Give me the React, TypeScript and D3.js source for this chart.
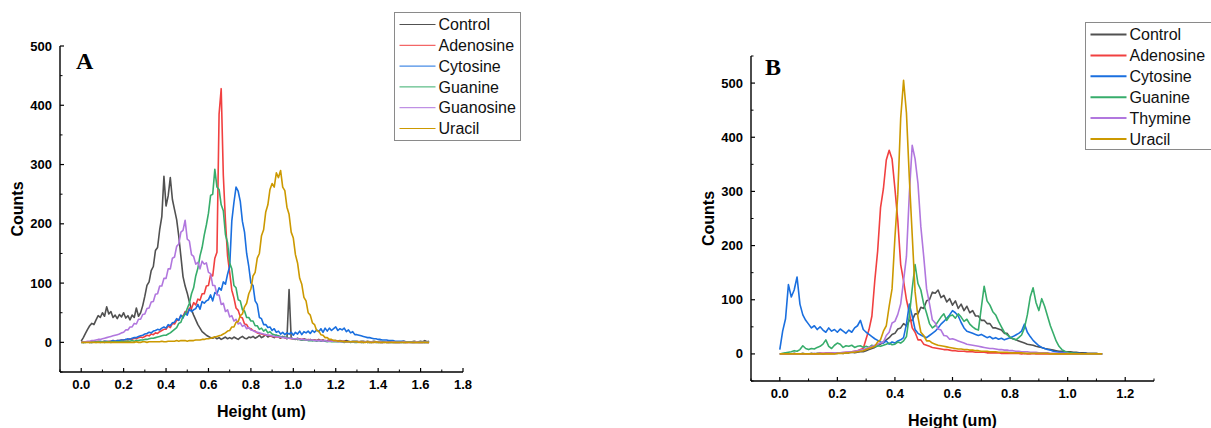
import React from 'react';
import * as d3 from 'd3';

// ---------- Panel A data (bins 0.00 .. 1.64 um, step 0.01) ----------
const heightsA = d3.range(165).map((i) => +(i * 0.01).toFixed(2));
const namesA = ['Control', 'Adenosine', 'Cytosine', 'Guanine', 'Guanosine', 'Uracil'];

const controlA = [2,8,15,22,28,32,30,38,45,42,
 50,44,60,48,52,42,46,40,47,43,
 50,41,45,38,46,42,58,44,50,62,
 78,96,102,121,128,155,160,190,212,280,
 230,247,278,241,224,207,179,145,111,95,
 83,68,55,46,38,30,24,18,15,12,
 10,8,7,9,6,8,5,7,9,6,
 8,6,9,7,5,8,10,7,6,9,
 8,10,7,9,12,8,10,13,9,11,
 10,8,12,9,7,10,8,6,89,7,
 6,5,7,5,4,6,5,4,5,3,
 4,3,5,3,4,2,3,4,2,3,
 3,2,3,2,2,3,2,1,2,2,
 2,1,2,2,1,2,1,1,2,1,
 1,2,1,1,1,2,1,1,1,1,
 1,1,2,1,1,1,1,2,1,1,
 2,1,3,1,2];
const adenosineA = [1,0,1,1,0,1,1,1,2,1,
 1,2,1,2,2,3,2,3,3,4,
 4,5,4,6,5,7,6,8,9,8,
 10,12,11,14,13,16,15,18,20,22,
 22,28,25,32,31,37,38,45,44,52,
 49,58,57,67,63,73,71,82,82,95,
 96,114,112,142,152,385,428,282,205,146,
 118,88,75,58,54,43,41,31,30,24,
 23,20,19,16,15,14,13,12,12,11,
 10,10,9,9,8,9,8,7,7,6,
 6,6,5,6,5,5,4,5,4,4,
 4,3,4,3,3,3,2,3,2,2,
 2,2,2,1,2,1,1,1,1,1,
 1,1,0,1,1,0,1,0,1,0,
 1,0,0,1,0,0,1,0,0,0,
 0,1,0,0,0,1,0,0,0,0,
 0,0,1,0,0];
const cytosineA = [1,0,1,1,1,0,1,1,1,2,
 1,2,2,1,2,3,2,3,3,4,
 4,5,6,5,7,8,8,10,11,12,
 14,15,17,16,19,20,22,21,24,26,
 24,30,28,33,34,40,37,46,41,50,
 46,56,52,55,57,64,56,69,66,70,
 72,80,70,84,82,92,88,102,98,115,
 128,205,236,262,255,238,204,186,150,128,
 100,96,70,64,42,40,30,30,25,26,
 20,23,17,19,14,17,13,16,14,17,
 12,17,14,19,13,18,16,19,15,20,
 17,21,18,23,17,24,19,24,20,23,
 26,20,23,21,24,18,21,16,18,13,
 13,12,11,10,9,8,8,7,6,6,
 5,5,4,4,4,3,3,3,2,2,
 2,2,2,1,1,1,1,1,1,1,
 1,1,0,1,1];
const guanineA = [0,0,0,1,0,0,1,0,1,0,
 1,0,1,1,0,1,1,1,1,2,
 1,2,2,2,3,2,3,3,4,4,
 5,5,6,7,7,8,9,10,11,12,
 12,14,16,19,22,25,32,34,44,47,
 57,66,82,92,112,125,146,160,181,198,
 218,248,250,292,262,258,232,222,182,168,
 134,124,96,92,72,70,55,53,42,42,
 36,36,28,28,22,24,19,22,16,18,
 14,13,12,11,10,9,9,8,7,7,
 6,6,5,5,4,4,4,3,3,3,
 3,2,3,2,2,2,1,2,1,1,
 1,1,1,1,0,1,1,0,1,0,
 0,1,0,0,1,0,0,0,1,0,
 0,0,0,1,0,0,0,0,0,0,
 0,0,0,0,1,0,0,0,0,0,
 0,0,0,0,0];
const guanosineA = [0,1,1,2,2,3,3,4,5,5,
 6,7,8,9,10,11,12,13,14,16,
 17,21,21,26,26,32,31,39,39,47,
 48,57,58,68,69,81,82,95,95,108,
 108,124,124,142,144,162,166,186,189,206,
 174,171,148,145,132,135,124,137,132,134,
 118,116,96,96,80,80,64,66,52,55,
 43,45,36,39,31,33,27,29,23,25,
 21,20,18,17,16,15,14,13,12,12,
 11,10,10,9,9,8,8,7,7,7,
 6,6,6,5,5,5,4,4,4,4,
 3,3,3,3,2,3,2,2,2,2,
 2,1,2,1,1,1,1,1,1,1,
 1,1,1,0,1,1,0,1,0,1,
 0,1,0,0,1,0,0,1,0,0,
 0,0,1,0,0,0,0,0,1,0,
 0,0,0,0,0];
const uracilA = [0,0,0,0,0,0,0,0,0,0,
 0,0,0,0,0,0,0,0,0,0,
 0,0,0,0,0,0,1,0,0,1,
 1,0,1,1,1,1,1,1,2,1,
 1,2,2,2,2,3,2,3,3,3,
 2,3,3,3,4,4,4,5,5,6,
 6,7,8,9,10,11,12,14,16,19,
 20,26,26,34,35,45,48,60,66,82,
 90,112,118,142,150,180,190,220,232,258,
 268,262,286,278,290,262,256,228,216,186,
 176,148,134,108,98,76,70,50,46,33,
 30,20,19,13,12,8,8,5,5,3,
 3,2,2,2,1,1,1,1,1,1,
 1,0,1,0,0,1,0,0,0,1,
 0,0,0,0,0,0,0,0,0,0,
 0,0,0,0,0,0,0,0,0,0,
 0,0,0,0,0];

// ---------- Panel B data (bins 0.00 .. 1.12 um, step 0.01) ----------
const heightsB = d3.range(113).map((i) => +(i * 0.01).toFixed(2));
const namesB = ['Control', 'Adenosine', 'Cytosine', 'Guanine', 'Thymine', 'Uracil'];

const controlB = [0,0,1,0,0,1,0,0,1,0,
 0,1,0,1,1,0,1,1,1,1,
 1,2,1,2,2,3,2,3,4,4,
 6,8,10,12,15,18,22,26,30,36,
 38,46,48,56,52,62,62,74,74,86,
 84,98,100,114,112,118,104,108,96,102,
 90,98,84,92,80,88,76,80,70,70,
 62,62,56,56,48,48,46,44,38,38,
 30,28,26,24,22,20,18,17,16,14,
 13,12,10,9,8,7,6,5,5,4,
 4,4,3,3,2,2,2,1,1,1,
 1,0,0];
const adenosineB = [0,0,0,0,0,0,0,0,0,0,
 0,0,0,0,1,1,1,1,1,1,
 2,2,2,3,3,4,5,6,8,10,
 28,45,70,135,190,270,305,358,376,360,
 305,246,165,135,100,76,48,40,26,26,
 18,16,14,12,11,10,9,8,8,7,
 6,6,5,5,5,4,4,4,3,3,
 3,3,2,2,2,2,2,1,1,1,
 1,1,1,1,0,1,0,0,1,0,
 0,0,0,0,0,0,0,0,0,0,
 0,0,0,0,0,0,0,0,0,0,
 0,0,0];
const cytosineB = [8,42,65,128,105,118,142,92,72,62,
 55,48,52,45,50,44,40,48,42,45,
 40,46,42,38,44,40,48,52,62,45,
 40,36,32,28,25,22,20,24,18,22,
 20,24,26,30,55,92,70,45,38,35,
 32,30,34,38,42,48,55,60,66,72,
 80,76,70,58,48,42,40,38,36,34,
 36,33,30,32,28,30,27,29,26,28,
 30,32,35,38,42,55,40,32,25,20,
 15,12,10,8,7,5,4,3,3,2,
 2,1,1,1,1,0,1,0,0,0,
 0,0,0];
const guanineB = [0,1,2,3,4,6,5,8,15,10,
 8,10,9,12,14,18,26,14,10,16,
 20,18,12,15,14,16,12,14,15,12,
 14,12,16,13,15,14,16,18,20,17,
 18,22,20,24,32,70,120,165,130,118,
 92,75,56,48,52,60,68,74,62,70,
 72,66,74,68,60,64,55,50,46,44,
 85,125,98,90,78,72,60,50,40,35,
 31,28,26,30,35,48,72,105,122,95,
 80,102,88,70,52,38,24,14,8,5,
 3,2,1,1,0,0,0,0,0,0,
 0,0,0];
const thymineB = [0,0,0,0,0,0,0,0,0,0,
 0,0,1,0,1,1,1,1,1,2,
 2,2,3,3,4,4,5,6,7,8,
 10,12,14,16,18,20,22,34,40,57,
 60,73,92,135,180,295,385,360,315,235,
 180,120,93,63,57,46,44,34,33,27,
 28,26,24,22,20,18,17,16,15,14,
 13,12,11,10,10,9,8,8,7,7,
 6,6,5,5,4,4,4,3,3,3,
 2,2,2,2,1,1,1,1,1,1,
 1,0,0,0,0,0,0,0,0,0,
 0,0,0];
const uracilB = [0,0,0,0,0,0,0,0,0,0,
 0,0,0,0,0,0,0,0,0,0,
 1,1,1,2,2,3,3,4,5,6,
 8,10,12,14,22,26,42,52,88,120,
 215,295,435,505,445,325,220,115,68,40,
 34,24,24,20,18,16,15,14,13,12,
 11,10,9,9,8,8,7,7,6,6,
 5,5,5,4,4,4,3,3,3,3,
 2,2,2,2,2,1,1,1,1,1,
 1,1,1,1,0,0,0,0,0,0,
 0,0,0,0,0,0,0,0,0,0,
 0,0,0];

// ---------- ticks ----------
const xTicksA = [0, 0.2, 0.4, 0.6, 0.8, 1.0, 1.2, 1.4, 1.6, 1.8];
const xMinorA = [-0.1, 0.1, 0.3, 0.5, 0.7, 0.9, 1.1, 1.3, 1.5, 1.7];
const yTicksA = [0, 100, 200, 300, 400, 500];
const yMinorA = [-50, 50, 150, 250, 350, 450];
const xTicksB = [0, 0.2, 0.4, 0.6, 0.8, 1.0, 1.2];
const xMinorB = [-0.1, 0.1, 0.3, 0.5, 0.7, 0.9, 1.1, 1.3];
const yTicksB = [0, 100, 200, 300, 400, 500];
const yMinorB = [-50, 50, 150, 250, 350, 450, 550];

const palette = ['#515151', '#F14040', '#1A6FDF', '#37AD6B', '#B177DE', '#CC9900'];
const FONT = 'Arial, "Liberation Sans", sans-serif';

type PanelProps = {
  letter: string;
  left: number; right: number; top: number; bottom: number;
  xDomain: [number, number]; yDomain: [number, number];
  xTicks: number[]; xMinor: number[]; yTicks: number[]; yMinor: number[];
  heights: number[]; series: number[][]; names: string[];
  legend: { x: number; y: number; w: number; h: number; row: number; lineW: number };
  letterPos: [number, number];
};

function Panel(p: PanelProps) {
  const x = d3.scaleLinear().domain(p.xDomain).range([p.left, p.right]);
  const y = d3.scaleLinear().domain(p.yDomain).range([p.bottom, p.top]);
  const line = d3.line<number>().x((_, i) => x(p.heights[i])).y((d) => y(d));
  const fmt = d3.format('.1f');
  const L = p.legend;
  return (
    <g>
      {p.series.map((s, k) => (
        <path key={k} d={line(s) || ''} fill="none" stroke={palette[k]} strokeWidth={1.6} strokeLinejoin="round" />
      ))}
      <line x1={p.left} x2={p.left} y1={p.bottom} y2={p.top} stroke="#000" strokeWidth={1.4} />
      <line x1={p.left} x2={p.right} y1={p.bottom} y2={p.bottom} stroke="#000" strokeWidth={1.4} />
      {p.xTicks.map((t) => (
        <g key={'xt' + t}>
          <line x1={x(t)} x2={x(t)} y1={p.bottom} y2={p.bottom - 4} stroke="#000" strokeWidth={1.2} />
          <text x={x(t)} y={p.bottom + 17} textAnchor="middle" fontSize={13} fontWeight="bold" fontFamily={FONT}>{fmt(t)}</text>
        </g>
      ))}
      {p.xMinor.map((t) => (
        <line key={'xm' + t} x1={x(t)} x2={x(t)} y1={p.bottom} y2={p.bottom - 2.5} stroke="#000" strokeWidth={1} />
      ))}
      {p.yTicks.map((t) => (
        <g key={'yt' + t}>
          <line x1={p.left} x2={p.left + 4} y1={y(t)} y2={y(t)} stroke="#000" strokeWidth={1.2} />
          <text x={p.left - 8} y={y(t)} dy="0.35em" textAnchor="end" fontSize={13} fontWeight="bold" fontFamily={FONT}>{t}</text>
        </g>
      ))}
      {p.yMinor.map((t) => (
        <line key={'ym' + t} x1={p.left} x2={p.left + 2.5} y1={y(t)} y2={y(t)} stroke="#000" strokeWidth={1} />
      ))}
      <text transform={`translate(${p.left - 37},${(p.top + p.bottom) / 2}) rotate(-90)`} textAnchor="middle" fontSize={16} fontWeight="bold" fontFamily={FONT}>Counts</text>
      <text x={(p.left + p.right) / 2} y={p.bottom + 45} textAnchor="middle" fontSize={16} fontWeight="bold" fontFamily={FONT}>Height (um)</text>
      <text x={p.letterPos[0]} y={p.letterPos[1]} fontSize={24} fontWeight="bold" fontFamily='"Times New Roman", "Liberation Serif", serif'>{p.letter}</text>
      <rect x={L.x} y={L.y} width={L.w} height={L.h} fill="#fff" stroke="#8a8a8a" strokeWidth={1} />
      {p.names.map((n, k) => {
        const cy = L.y + 12 + k * L.row;
        return (
          <g key={n}>
            <line x1={L.x + 5} x2={L.x + 41} y1={cy} y2={cy} stroke={palette[k]} strokeWidth={L.lineW} />
            <text x={L.x + 44} y={cy} dy="0.35em" fontSize={16} fontFamily={FONT} fill="#111">{n}</text>
          </g>
        );
      })}
    </g>
  );
}

export default function App() {
  return (
    <svg width={1211} height={428} style={{ position: 'absolute', left: 0, top: 0, background: '#fff' }}>
      <rect width={1211} height={428} fill="#fff" />
      <Panel
        letter="A" letterPos={[76, 69]}
        left={60} right={463} top={46} bottom={372}
        xDomain={[-0.1, 1.8]} yDomain={[-50, 500]}
        xTicks={xTicksA} xMinor={xMinorA} yTicks={yTicksA} yMinor={yMinorA}
        heights={heightsA}
        series={[controlA, adenosineA, cytosineA, guanineA, guanosineA, uracilA]}
        names={namesA}
        legend={{ x: 394.5, y: 12.5, w: 126, h: 128, row: 20.8, lineW: 1 }}
      />
      <Panel
        letter="B" letterPos={[765, 75]}
        left={751} right={1154} top={56} bottom={381}
        xDomain={[-0.1, 1.3]} yDomain={[-50, 550]}
        xTicks={xTicksB} xMinor={xMinorB} yTicks={yTicksB} yMinor={yMinorB}
        heights={heightsB}
        series={[controlB, adenosineB, cytosineB, guanineB, thymineB, uracilB]}
        names={namesB}
        legend={{ x: 1085.5, y: 22.5, w: 130, h: 127, row: 20.9, lineW: 2 }}
      />
    </svg>
  );
}
